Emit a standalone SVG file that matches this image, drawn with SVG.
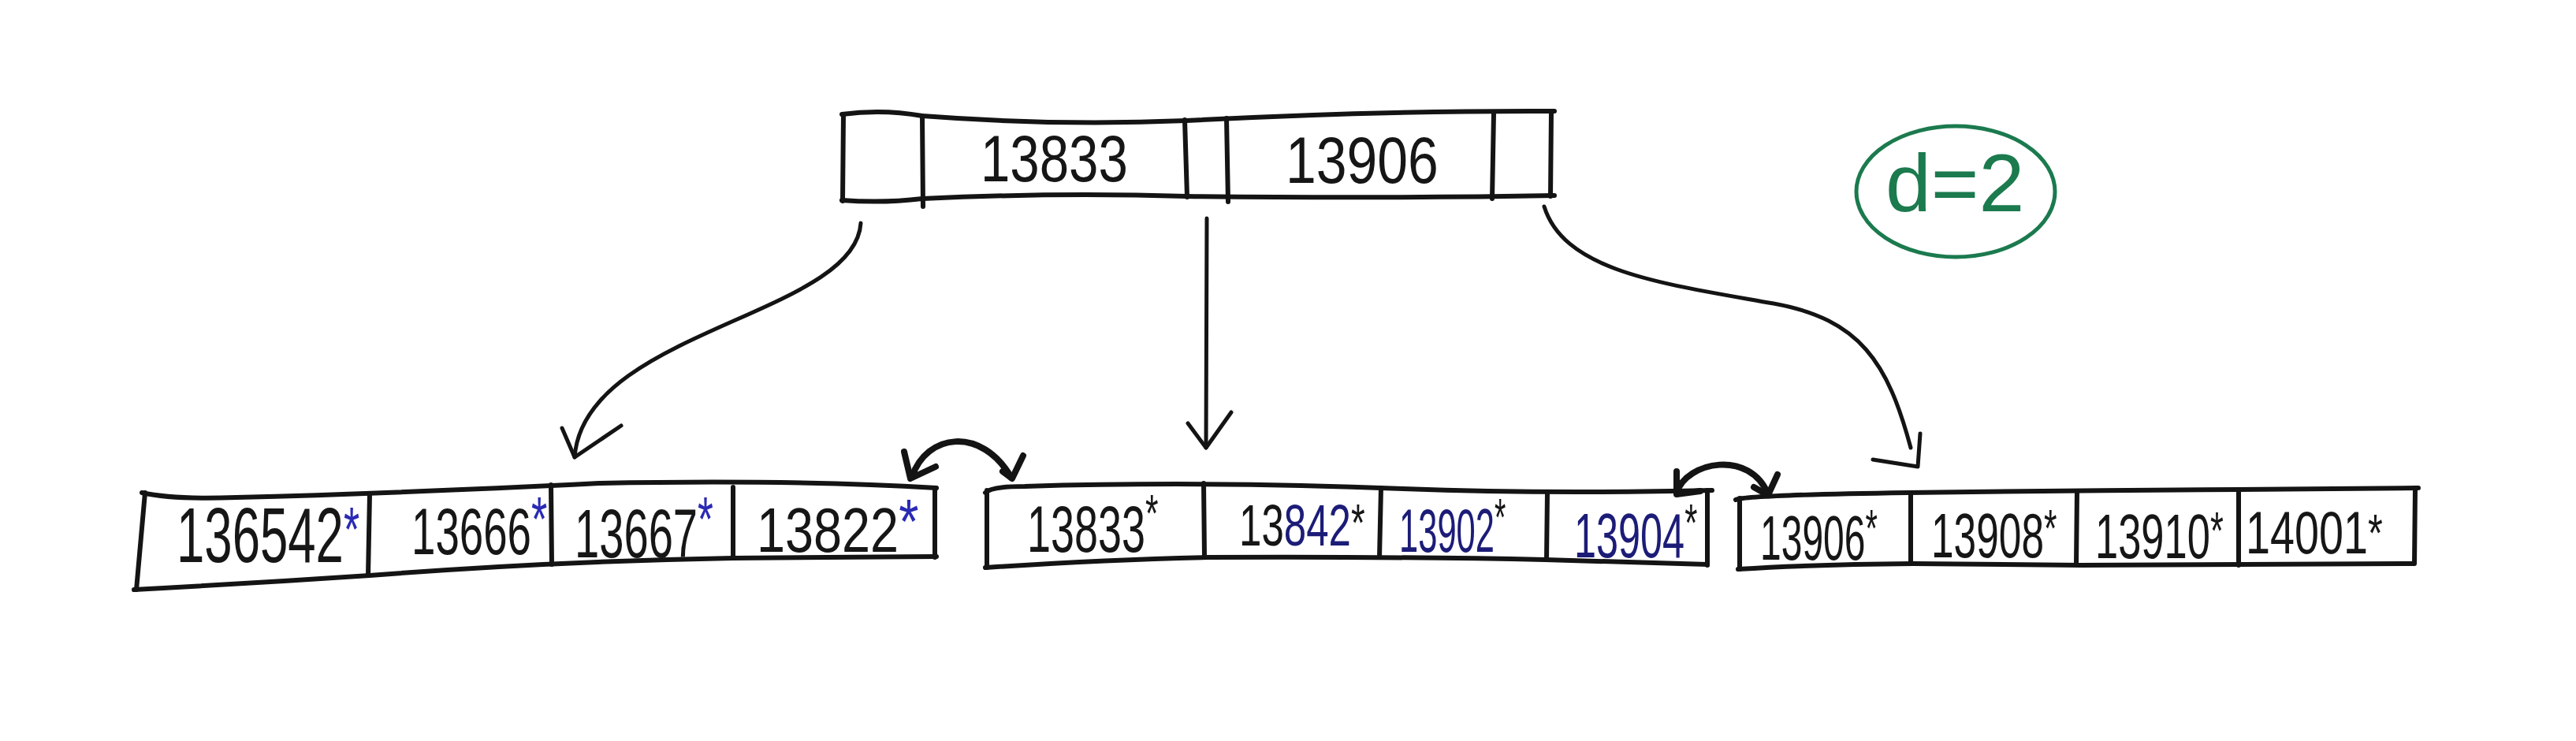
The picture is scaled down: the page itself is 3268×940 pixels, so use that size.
<svg xmlns="http://www.w3.org/2000/svg" width="3268" height="940" viewBox="0 0 3268 940">
<style>
.ln{fill:none;stroke:#141414;stroke-width:6;stroke-linecap:round;stroke-linejoin:round}
.ar{fill:none;stroke:#141414;stroke-width:5;stroke-linecap:round;stroke-linejoin:round}
.sib{fill:none;stroke:#141414;stroke-width:8;stroke-linecap:round;stroke-linejoin:round}
.num{font-family:"Liberation Sans",Arial,sans-serif;fill:#161616}
.navy{fill:#1c1c78}
.bast{fill:#2a2ab4;font-size:80px}
.kast{fill:#161616;font-size:66px}
.grn{fill:none;stroke:#1b7a4e;stroke-width:5}
.gtx{font-family:"Liberation Sans",Arial,sans-serif;fill:#1b7a4e}
</style>
<rect width="3268" height="940" fill="#ffffff"/>

<g id="node-root">
<path class="ln" d="M1068,145 Q1120,138 1170,147 Q1340,160 1505,153 Q1750,140 1972,141"/>
<path class="ln" d="M1068,254 Q1120,258 1170,252 Q1340,244 1505,249 Q1750,252 1972,248"/>
<path class="ln" d="M1070,145 L1069,255 M1170,147 L1171,262 M1503,152 L1506,250 M1556,150 L1558,256 M1895,144 L1893,252 M1968,141 L1967,249"/>
<text class="num" font-size="84" transform="translate(1244,230) scale(0.80,1)">13833</text>
<text class="num" font-size="84" transform="translate(1631,232) scale(0.83,1)">13906</text>
</g>

<g id="note-d">
<ellipse class="grn" cx="2481" cy="243" rx="126" ry="83"/>
<text class="gtx" x="2392" y="268" font-size="104">d=2</text>
</g>

<g id="node-leaf1">
<path class="ln" d="M180,625 Q220,634 300,631 Q500,626 760,613 Q1000,608 1188,619"/>
<path class="ln" d="M170,748 Q320,740 469,730 Q700,712 930,708 L1188,706"/>
<path class="ln" d="M184,625 L173,748 M1186,619 L1186,707 M469,627 L467,730 M699,615 L700,716 M930,618 L930,708"/>
<text class="num" font-size="98" transform="translate(224,713) scale(0.648,1)">136542<tspan class="bast" dy="-14">*</tspan></text>
<text class="num" font-size="84" transform="translate(522,703) scale(0.651,1)">13666<tspan class="bast" dy="-17">*</tspan></text>
<text class="num" font-size="88" transform="translate(729,707) scale(0.638,1)">13667<tspan class="bast" dy="-21">*</tspan></text>
<text class="num" font-size="80" transform="translate(960,700) scale(0.81,1)">13822<tspan class="bast" dy="-11">*</tspan></text>
</g>

<g id="node-leaf2">
<path class="ln" d="M1250,625 Q1258,617 1300,617 Q1530,610 1780,620 Q1960,627 2172,622"/>
<path class="ln" d="M1250,720 Q1400,710 1533,707 Q1780,706 1960,710 L2166,716"/>
<path class="ln" d="M1252,622 L1252,720 M2166,622 L2166,717 M1527,613 L1528,707 M1752,619 L1750,707 M1963,625 L1962,710"/>
<text class="num" font-size="84" transform="translate(1303,700) scale(0.642,1)">13833<tspan class="kast" dy="-26">*</tspan></text>
<text class="num" font-size="74" transform="translate(1572,692) scale(0.69,1)">13<tspan class="navy">842</tspan><tspan class="kast" dy="-6">*</tspan></text>
<text class="num navy" font-size="78" transform="translate(1775,700) scale(0.558,1)">13902<tspan class="kast" dy="-21">*</tspan></text>
<text class="num navy" font-size="80" transform="translate(1997,707) scale(0.63,1)">13904<tspan class="kast" dy="-21">*</tspan></text>
</g>

<g id="node-leaf3">
<path class="ln" d="M2202,634 Q2215,628 2420,625 Q2630,622 2840,621 L3068,619"/>
<path class="ln" d="M2205,722 Q2300,716 2427,715 L2640,717 L3062,715"/>
<path class="ln" d="M2207,632 L2207,722 M3064,619 L3063,715 M2424,626 L2424,715 M2635,623 L2634,716 M2840,621 L2840,717"/>
<text class="num" font-size="80" transform="translate(2233,710) scale(0.60,1)">13906<tspan class="kast" dy="-17">*</tspan></text>
<text class="num" font-size="80" transform="translate(2450,707) scale(0.643,1)">13908<tspan class="kast" dy="-14">*</tspan></text>
<text class="num" font-size="80" transform="translate(2658,708) scale(0.656,1)">13910<tspan class="kast" dy="-12">*</tspan></text>
<text class="num" font-size="76" transform="translate(2849,702) scale(0.733,1)">14001<tspan class="kast" dy="-3">*</tspan></text>
</g>

<g id="connectors">
<path class="ar" d="M1092,283 C1085,400 740,420 729,580"/>
<polyline class="ar" points="713,543 729,580 788,540"/>
<path class="ar" d="M1531,277 L1530,568"/>
<polyline class="ar" points="1507,537 1530,568 1562,523"/>
<path class="ar" d="M1959,262 C1985,345 2110,360 2250,385 C2360,405 2395,460 2424,568"/>
<polyline class="ar" points="2436,550 2433,592 2376,583"/>
<path class="sib" d="M1157,605 C1175,550 1245,540 1283,606"/>
<polyline class="sib" points="1147,573 1155,607 1187,592"/>
<polyline class="sib" points="1298,578 1284,607 1272,598"/>
<path class="sib" d="M2127,625 C2140,585 2220,570 2243,627"/>
<polyline class="sib" points="2127,598 2127,627 2157,623"/>
<polyline class="sib" points="2255,602 2243,628 2225,618"/>
</g>
</svg>
